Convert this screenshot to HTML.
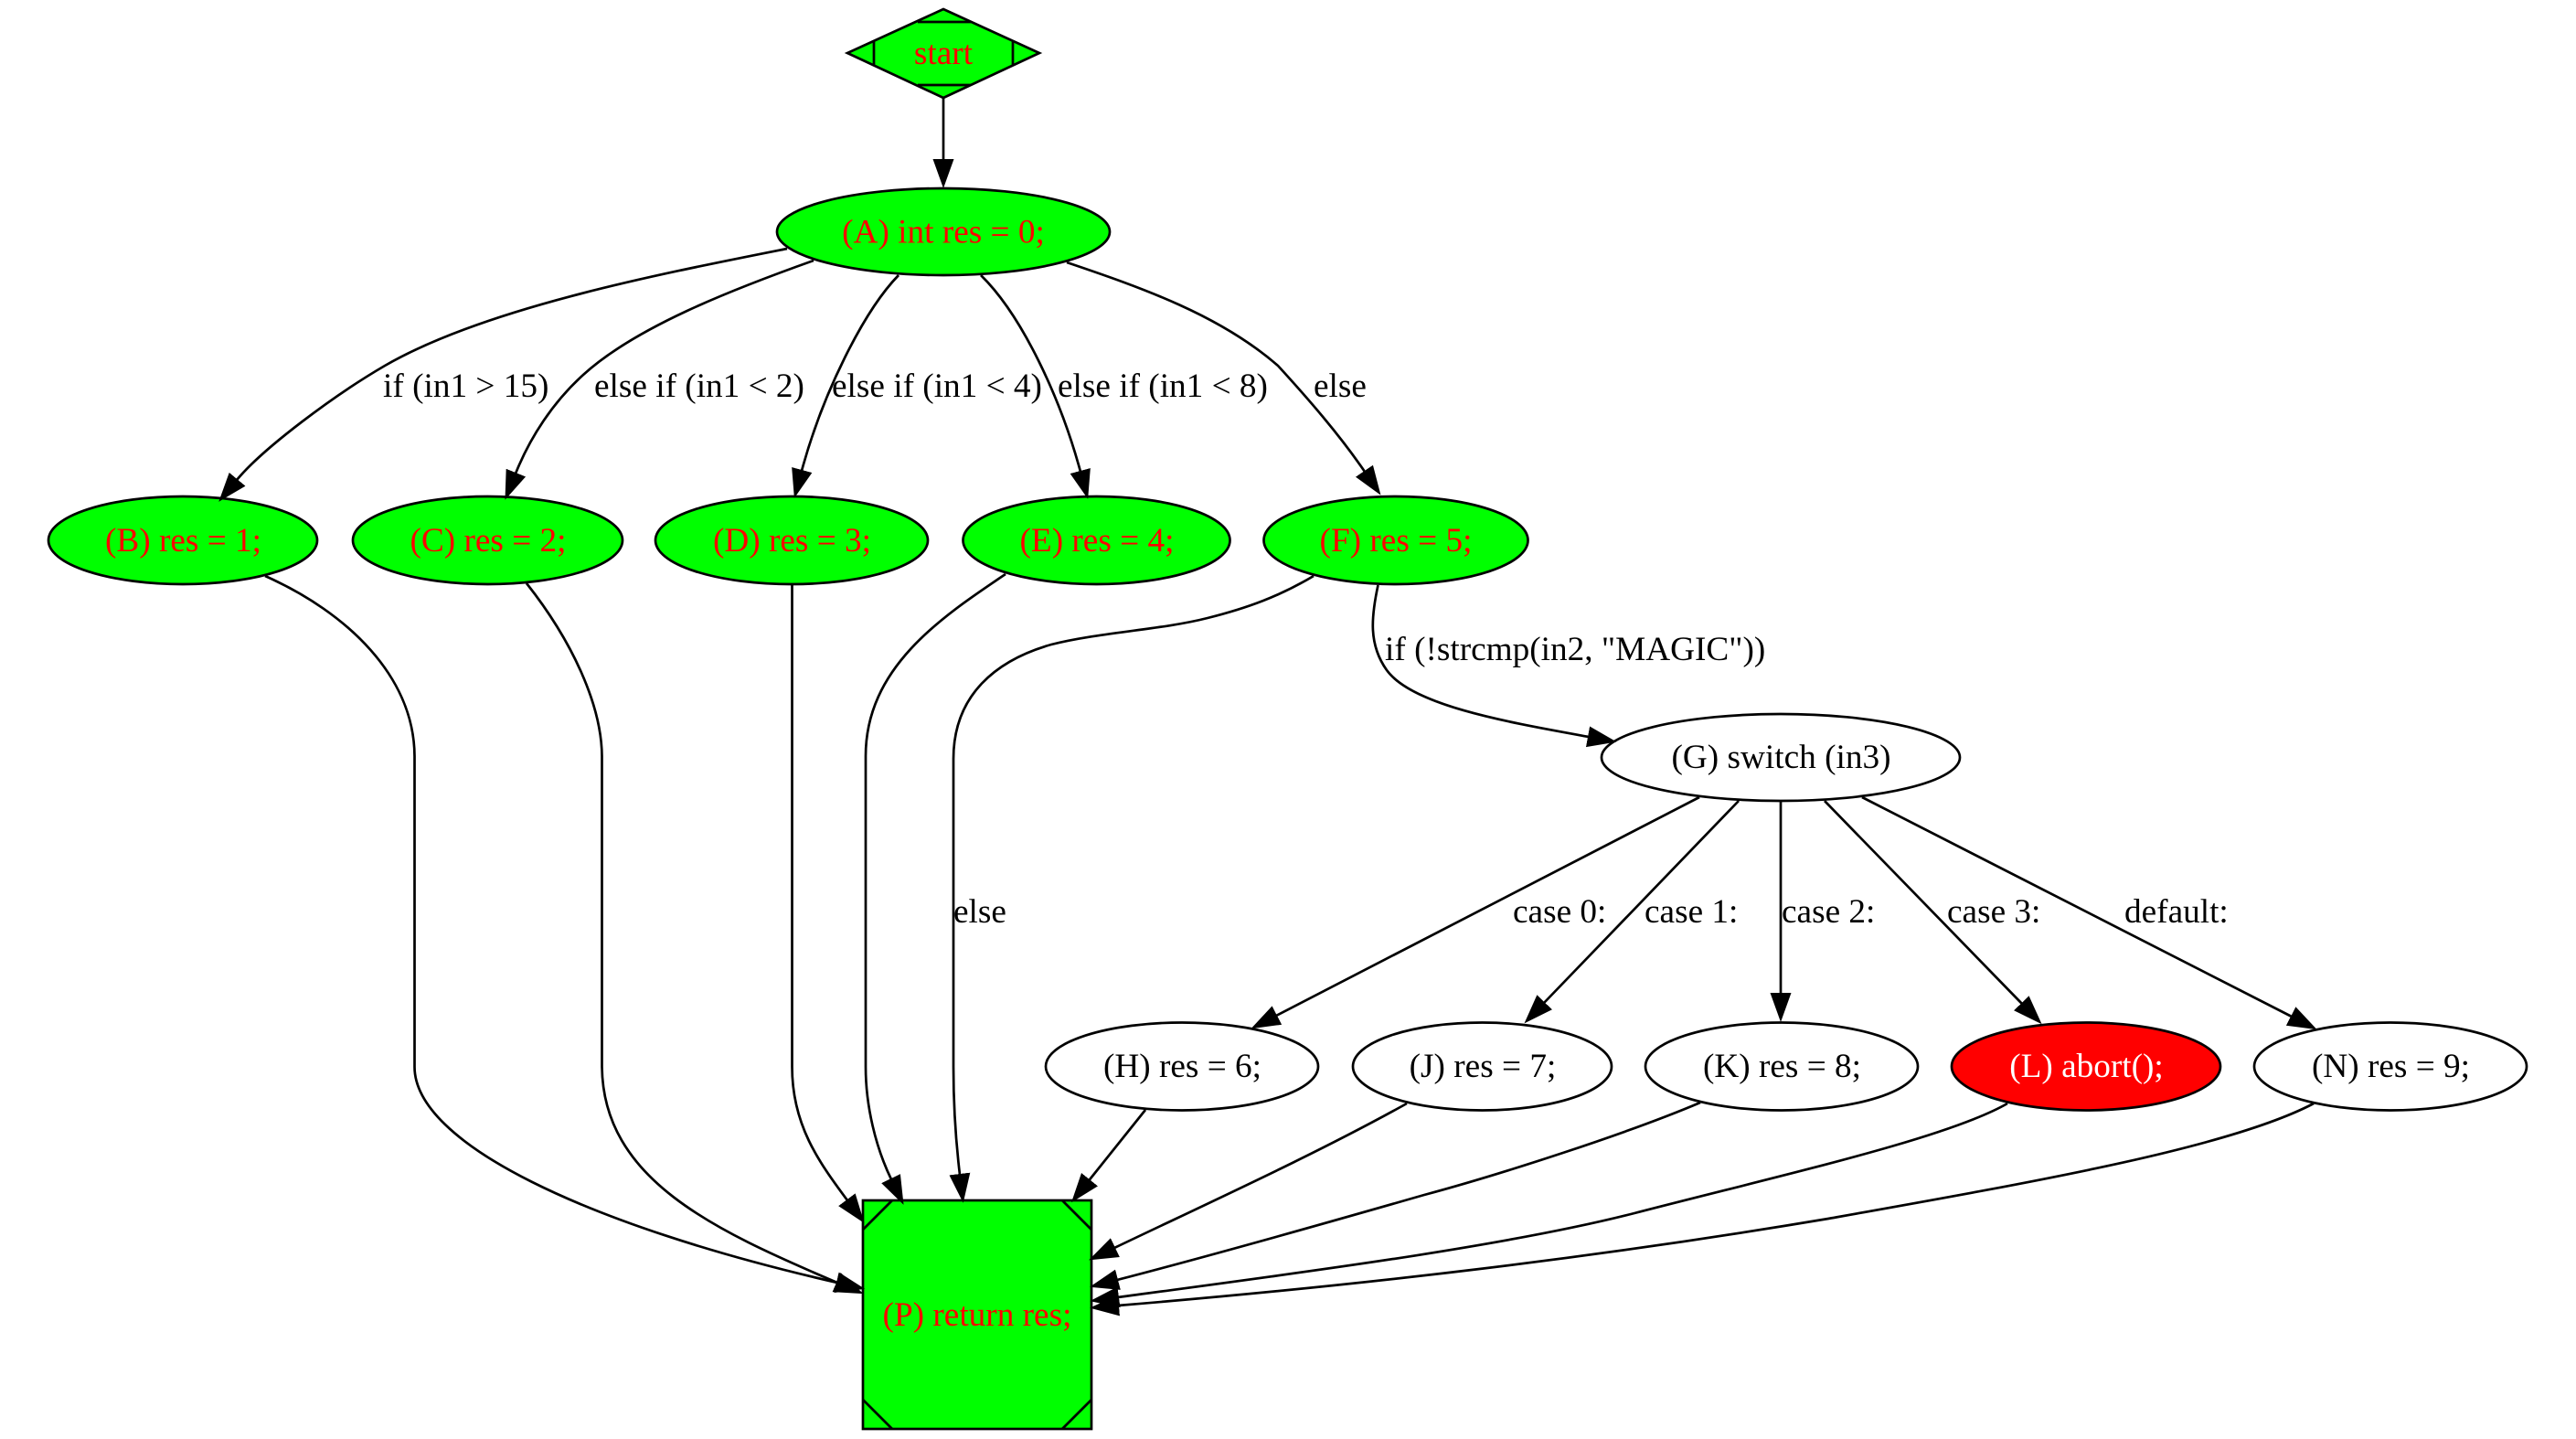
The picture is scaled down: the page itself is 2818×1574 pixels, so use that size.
<!DOCTYPE html>
<html>
<head>
<meta charset="utf-8">
<style>
html,body{margin:0;padding:0;background:#fff;width:2818px;height:1574px;overflow:hidden}
svg{display:block}
text{font-family:"Liberation Serif","Times New Roman",serif;font-size:37.25px}
.n{text-anchor:middle}
.g{fill:#0f0;stroke:#000;stroke-width:2.7}
.w{fill:#fff;stroke:#000;stroke-width:2.7}
.e{fill:none;stroke:#000;stroke-width:2.7}
</style>
</head>
<body>
<svg width="2818" height="1574" viewBox="0 0 2818 1574" xmlns="http://www.w3.org/2000/svg">
<defs>
<marker id="a" markerUnits="userSpaceOnUse" markerWidth="36" markerHeight="28" refX="1" refY="13" orient="auto">
<path d="M0,1.5 L32,13 L0,24.5 Z" fill="#000"/>
</marker>
</defs>

<!-- nodes -->
<polygon class="g" points="1032,10 1137,58 1032,107 927,58"/>
<path class="e" d="M1004,24H1062M1004,93H1062M956,45V71M1108,45V71"/>
<text class="n" x="1032" y="70" fill="#f00">start</text>

<ellipse class="g" cx="1032" cy="253.5" rx="182" ry="47.5"/>
<text class="n" x="1032" y="265.5" fill="#f00">(A) int res = 0;</text>

<ellipse class="g" cx="200" cy="591" rx="147" ry="48"/>
<text class="n" x="200.5" y="603" fill="#f00">(B) res = 1;</text>
<ellipse class="g" cx="533.5" cy="591" rx="147.5" ry="48"/>
<text class="n" x="534" y="603" fill="#f00">(C) res = 2;</text>
<ellipse class="g" cx="866" cy="591" rx="149" ry="48"/>
<text class="n" x="866.5" y="603" fill="#f00">(D) res = 3;</text>
<ellipse class="g" cx="1199.5" cy="591" rx="146" ry="48"/>
<text class="n" x="1200" y="603" fill="#f00">(E) res = 4;</text>
<ellipse class="g" cx="1527" cy="591" rx="144.5" ry="48"/>
<text class="n" x="1527" y="603" fill="#f00">(F) res = 5;</text>

<ellipse class="w" cx="1948" cy="828.5" rx="196" ry="47.5"/>
<text class="n" x="1948.5" y="840" fill="#000">(G) switch (in3)</text>

<ellipse class="w" cx="1293" cy="1166.5" rx="149" ry="48"/>
<text class="n" x="1293.5" y="1178" fill="#000">(H) res = 6;</text>
<ellipse class="w" cx="1621.5" cy="1166.5" rx="141.5" ry="48"/>
<text class="n" x="1622" y="1178" fill="#000">(J) res = 7;</text>
<ellipse class="w" cx="1949" cy="1166.5" rx="149" ry="48"/>
<text class="n" x="1949.5" y="1178" fill="#000">(K) res = 8;</text>
<ellipse cx="2282" cy="1166.5" rx="147" ry="48" fill="#f00" stroke="#000" stroke-width="2.7"/>
<text class="n" x="2282.5" y="1178" fill="#fff">(L) abort();</text>
<ellipse class="w" cx="2615" cy="1166.5" rx="149" ry="48"/>
<text class="n" x="2615.5" y="1178" fill="#000">(N) res = 9;</text>

<rect class="g" x="944" y="1313" width="250" height="250"/>
<path class="e" d="M944,1345L976,1313M1162,1313L1194,1345M944,1531L976,1563M1162,1563L1194,1531"/>
<text class="n" x="1069" y="1450" fill="#f00">(P) return res;</text>

<!-- edges -->
<g>
<path class="e" marker-end="url(#a)" d="M1032,107L1032,175"/>
<path class="e" marker-end="url(#a)" d="M861,272C720,300 530,337 421,400C366,432 288,490 259,525"/>
<path class="e" marker-end="url(#a)" d="M890,285C800,317 695,358 638,410C605,440 580,478 564,518"/>
<path class="e" marker-end="url(#a)" d="M983,301C945,340 900,430 877,515"/>
<path class="e" marker-end="url(#a)" d="M1073,301C1118,345 1160,435 1182,516"/>
<path class="e" marker-end="url(#a)" d="M1167,287C1250,315 1335,345 1398,400C1430,435 1465,475 1493,516"/>

<path class="e" marker-end="url(#a)" d="M290,630C380,670 453,740 453.5,827L453.5,1167C453.5,1250 640,1340 916,1403"/>
<path class="e" marker-end="url(#a)" d="M576,638C625,700 658,770 658.5,827L658.5,1167C660,1290 780,1345 916,1403"/>
<path class="e" marker-end="url(#a)" d="M866.5,639L866.5,1167C866.5,1230 895,1270 927,1313"/>
<path class="e" marker-end="url(#a)" d="M1100,628C1030,675 947,730 947,827L947,1167C947,1210 958,1255 975,1290"/>
<path class="e" marker-end="url(#a)" d="M1437,630C1400,652 1365,665 1321,676C1270,689 1200,692 1150,705C1090,722 1043,760 1043,830L1043,1167C1043,1220 1047,1260 1050,1285"/>
<path class="e" marker-end="url(#a)" d="M1507.5,640C1500,675 1497,705 1517,733C1545,772 1650,790 1738,806"/>

<path class="e" marker-end="url(#a)" d="M1859,872L1396,1111"/>
<path class="e" marker-end="url(#a)" d="M1902,876L1689,1097"/>
<path class="e" marker-end="url(#a)" d="M1948,877L1948,1087"/>
<path class="e" marker-end="url(#a)" d="M1996,876L2212,1098"/>
<path class="e" marker-end="url(#a)" d="M2037,872L2507,1112"/>

<path class="e" marker-end="url(#a)" d="M1253,1214L1191.4,1291"/>
<path class="e" marker-end="url(#a)" d="M1539,1207C1440,1262 1330,1312 1219,1365"/>
<path class="e" marker-end="url(#a)" d="M1860,1206C1780,1240 1640,1285 1558,1307C1450,1338 1330,1372 1222,1400"/>
<path class="e" marker-end="url(#a)" d="M2196,1207C2130,1245 1950,1285 1788,1327C1640,1365 1400,1395 1223,1419"/>
<path class="e" marker-end="url(#a)" d="M2531,1207C2440,1255 2230,1292 2000,1333C1750,1375 1500,1405 1223,1428"/>
</g>

<!-- edge labels -->
<text x="419" y="434">if (in1 &gt; 15)</text>
<text x="650" y="434">else if (in1 &lt; 2)</text>
<text x="910" y="434">else if (in1 &lt; 4)</text>
<text x="1157" y="434">else if (in1 &lt; 8)</text>
<text x="1437" y="434">else</text>
<text x="1515" y="722">if (!strcmp(in2, "MAGIC"))</text>
<text x="1043" y="1009">else</text>
<text x="1655" y="1009">case 0:</text>
<text x="1799" y="1009">case 1:</text>
<text x="1949" y="1009">case 2:</text>
<text x="2130" y="1009">case 3:</text>
<text x="2324" y="1009">default:</text>
</svg>
</body>
</html>
